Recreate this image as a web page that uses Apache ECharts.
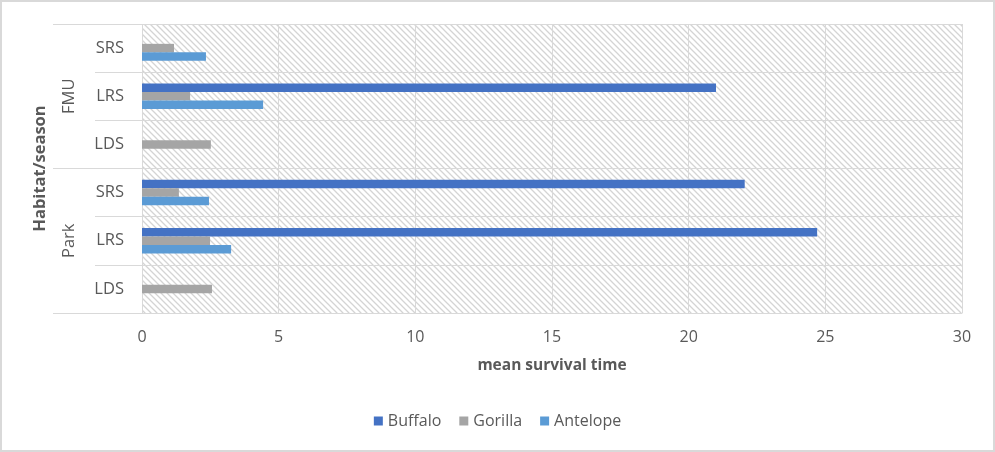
<!DOCTYPE html>
<html>
<head>
<meta charset="utf-8">
<title>Mean survival time</title>
<script src="https://cdn.jsdelivr.net/npm/echarts@6/dist/echarts.min.js"></script>
<style>
  html, body { margin: 0; padding: 0; background: #fff; }
  #wrap { position: relative; width: 995px; height: 452px; }
  #chart { width: 995px; height: 452px; }
  #frame {
    position: absolute; left: 0; top: 0; width: 995px; height: 452px;
    box-sizing: border-box; border: 2px solid #d9d9d9; pointer-events: none;
  }
</style>
</head>
<body>
<div id="wrap">
  <div id="chart"></div>
  <div id="frame"></div>
</div>
<script>
// habitat groups and seasons, bottom to top
const groups = ['Park', 'FMU'];
const seasons = ['LDS', 'LRS', 'SRS'];
const categories = groups.flatMap(g => seasons.map(s => g + ' ' + s));

const buffalo = [null, 24.7, 22.05, null, 21.0, null];
const gorilla = [2.56, 2.49, 1.35, 2.52, 1.76, 1.17];
const antelope = [null, 3.26, 2.45, null, 4.43, 2.34];

const xTicks = [0, 5, 10, 15, 20, 25, 30];

const textColor = '#595959';
const lineColor = '#d9d9d9';
const font = 'Open Sans';

// hatched background like the excel plot area
function hatch() {
    const c = document.createElement('canvas');
    c.width = 6;
    c.height = 6;
    const ctx = c.getContext('2d');
    ctx.fillStyle = '#ffffff';
    ctx.fillRect(0, 0, 6, 6);
    ctx.strokeStyle = '#d4d4d4';
    ctx.lineWidth = 1.3;
    ctx.beginPath();
    ctx.moveTo(-1, -1); ctx.lineTo(7, 7);
    ctx.moveTo(-1, 5); ctx.lineTo(1, 7);
    ctx.moveTo(5, -1); ctx.lineTo(7, 1);
    ctx.stroke();
    return c;
}

const myChart = echarts.init(document.getElementById('chart'));

const barStyle = { barWidth: 8.5, barGap: '0%', yAxisIndex: 0 };

const option = {
    animation: false,
    textStyle: { fontFamily: font },
    grid: {
        left: 142, right: 33, top: 24, bottom: 139,
        show: true,
        borderWidth: 0,
        backgroundColor: { image: hatch(), repeat: 'repeat' }
    },
    legend: {
        data: ['Buffalo', 'Gorilla', 'Antelope'],
        top: 408,
        left: 'center',
        itemWidth: 9,
        itemHeight: 9,
        itemGap: 18,
        icon: 'rect',
        textStyle: { color: textColor, fontSize: 16, fontFamily: font }
    },
    xAxis: {
        type: 'value',
        min: xTicks[0],
        max: xTicks[xTicks.length - 1],
        interval: 5,
        name: 'mean survival time',
        nameLocation: 'middle',
        nameGap: 45,
        nameTextStyle: { color: textColor, fontSize: 15.5, fontWeight: 'bold', fontFamily: font },
        axisLine: { show: true, lineStyle: { color: lineColor } },
        axisTick: { show: false },
        axisLabel: { color: textColor, fontSize: 16, margin: 16 },
        splitLine: { show: true, lineStyle: { color: lineColor } }
    },
    yAxis: [
        {
            type: 'category',
            data: categories,
            axisLine: { show: false },
            axisTick: { show: true, length: 47, lineStyle: { color: lineColor } },
            axisLabel: {
                color: textColor, fontSize: 16.5, margin: 18,
                formatter: v => v.split(' ')[1]
            },
            splitLine: { show: true, lineStyle: { color: lineColor } }
        },
        {
            type: 'category',
            data: groups,
            position: 'left',
            name: 'Habitat/season',
            nameLocation: 'middle',
            nameGap: 93,
            nameRotate: 90,
            nameTextStyle: { color: textColor, fontSize: 16.5, fontWeight: 'bold', fontFamily: font },
            axisLine: { show: false },
            axisTick: { show: true, length: 89, lineStyle: { color: lineColor } },
            axisLabel: { color: textColor, fontSize: 16.5, rotate: 90, margin: 64 },
            splitLine: { show: false }
        }
    ],
    series: [
        { name: 'Buffalo', type: 'bar', data: buffalo, itemStyle: { color: '#4472c4' }, ...barStyle },
        { name: 'Gorilla', type: 'bar', data: gorilla, itemStyle: { color: '#a5a5a5' }, ...barStyle },
        { name: 'Antelope', type: 'bar', data: antelope, itemStyle: { color: '#5b9bd5' }, ...barStyle }
    ]
};

myChart.setOption(option);
</script>
</body>
</html>
